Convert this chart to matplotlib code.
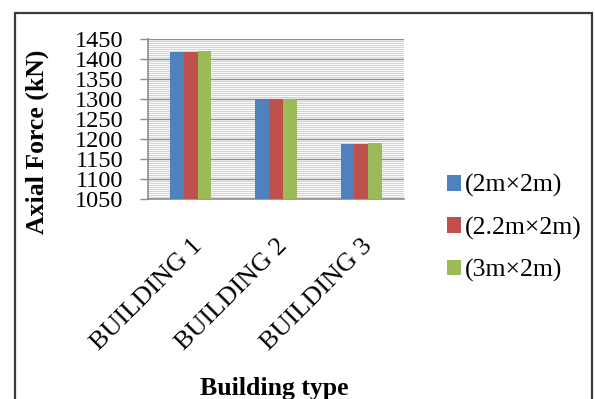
import numpy as np
import matplotlib
matplotlib.use("Agg")
import matplotlib.pyplot as plt
from matplotlib.patches import Rectangle
from matplotlib.ticker import MultipleLocator

# Data
buildings = ["BUILDING 1", "BUILDING 2", "BUILDING 3"]
series_names = ["(2m\u00d72m)", "(2.2m\u00d72m)", "(3m\u00d72m)"]
axial_2x2 = [1417, 1301, 1187]
axial_22x2 = [1417, 1301, 1187]
axial_3x2 = [1421, 1301, 1190]
y_ticks = [1050, 1100, 1150, 1200, 1250, 1300, 1350, 1400, 1450]

colors = ["#4F81BD", "#C0504D", "#9BBB59"]
serif = ["Liberation Serif", "DejaVu Serif"]

W, H = 595, 399
fig = plt.figure(figsize=(W / 100, H / 100), dpi=100)
fig.patch.set_facecolor("white")

# Outer chart border
fig.patches.append(Rectangle((15 / W, -0.05), (592 - 15) / W, (H - 13) / H + 0.05,
                             transform=fig.transFigure, fill=False,
                             edgecolor="#3a3a3a", linewidth=1.6))

ax = fig.add_axes([148 / W, 1 - 199 / H, (404 - 148) / W, (199 - 39) / H])

x = np.arange(len(buildings)) + 0.5
bw = 0.162
all_series = [axial_2x2, axial_22x2, axial_3x2]
for i, (vals, name, c) in enumerate(zip(all_series, series_names, colors)):
    ax.bar(x + (i - 1) * bw, vals, width=bw, color=c, label=name, zorder=3)

ax.set_xlim(0, len(buildings))
ax.set_ylim(y_ticks[0], y_ticks[-1])
ax.set_yticks(y_ticks)
ax.yaxis.set_minor_locator(MultipleLocator(5))
ax.grid(axis="y", which="major", color="#8c8c8c", linewidth=1.0, zorder=1)
ax.grid(axis="y", which="minor", color="#d4d4d4", linewidth=0.8, zorder=0)
ax.set_axisbelow(True)

for s in ["top", "right"]:
    ax.spines[s].set_visible(False)
for s in ["left", "bottom"]:
    ax.spines[s].set_color("#8c8c8c")
    ax.spines[s].set_linewidth(1.2)

ax.tick_params(axis="y", which="major", direction="out", length=6, width=1.0,
               color="#8c8c8c", pad=12)
ax.tick_params(axis="y", which="minor", length=0)
ax.tick_params(axis="x", length=0, pad=26)

ax.set_xticks(x)
ax.set_xticklabels(buildings, rotation=45, ha="right", va="top",
                   rotation_mode="anchor", family=serif, fontsize=19)
for lab in ax.get_yticklabels():
    lab.set_family(serif)
    lab.set_fontsize(17.5)

fig.text(37 / W, 1 - 142 / H, "Axial Force (kN)", family=serif, fontsize=18.5,
         fontweight="bold", rotation=90, ha="center", va="center")
fig.text(274 / W, 1 - 388 / H, "Building type", family=serif,
         fontsize=18.5, fontweight="bold", ha="center", va="center")

leg = fig.legend(loc="upper left", bbox_to_anchor=(437 / W, 1 - 164 / H),
                 frameon=False, prop={"family": serif, "size": 18.5},
                 handlelength=0.55, handleheight=0.55, handletextpad=0.15,
                 labelspacing=0.75, borderaxespad=0)

fig.savefig("out.png", dpi=100)
